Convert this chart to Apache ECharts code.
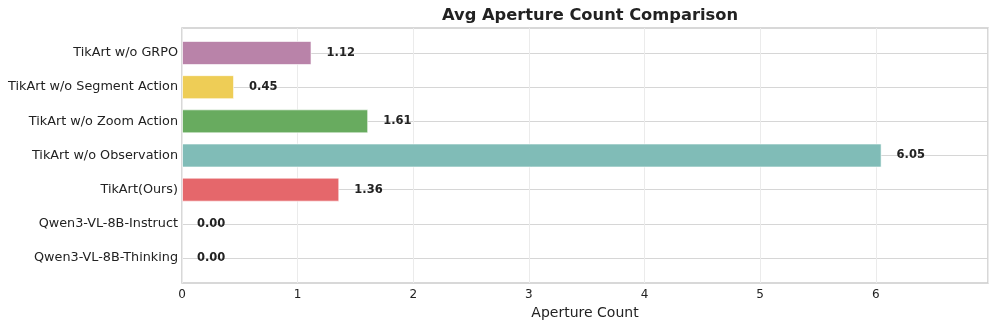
<!DOCTYPE html>
<html><head><meta charset="utf-8">
<script src="https://cdn.jsdelivr.net/npm/echarts@6/dist/echarts.min.js"></script>
<style>html,body{margin:0;padding:0;background:#fff}#c{width:997px;height:325px}</style>
</head><body><div id="c"></div>
<script>
const categories = ["TikArt w/o GRPO","TikArt w/o Segment Action","TikArt w/o Zoom Action","TikArt w/o Observation","TikArt(Ours)","Qwen3-VL-8B-Instruct","Qwen3-VL-8B-Thinking"];
const values = [1.12, 0.45, 1.61, 6.05, 1.36, 0.00, 0.00];
const barColors = ["#b983a9","#eecd56","#68ab5f","#80bcb7","#e5676b","#999999","#999999"];
const xTicks = [0,1,2,3,4,5,6];
const xMax = 6.97;

const chart = echarts.init(document.getElementById('c'));
const font = "'DejaVu Sans', sans-serif";
chart.setOption({
  animation: false,
  title: {text: 'Avg Aperture Count Comparison', left: 585, textAlign: 'center', top: 3,
    textStyle: {fontFamily: font, fontSize: 16.3, fontWeight: 'bold', color: '#222'}},
  grid: [
    {left: 182, width: 806, top: 28, height: 255, show: true, borderColor: '#cccccc', borderWidth: 1.5, backgroundColor: 'transparent'},
    {left: 182, width: 806, top: 53, height: 205}
  ],
  xAxis: [
    {gridIndex: 0, type: 'value', min: 0, max: xMax, interval: 1,
     axisLine: {show: false}, axisTick: {show: false},
     axisLabel: {fontFamily: font, fontSize: 12, color: '#222', margin: 6,
       formatter: v => xTicks.includes(v) ? String(v) : ''},
     splitLine: {show: true, lineStyle: {color: '#ebebeb', width: 1}},
     name: 'Aperture Count', nameLocation: 'middle', nameGap: 20,
     nameTextStyle: {fontFamily: font, fontSize: 14, color: '#222'}},
    {gridIndex: 1, type: 'value', min: 0, max: xMax, show: false}
  ],
  yAxis: [
    {gridIndex: 0, type: 'value', min: 0, max: 1, show: false},
    {gridIndex: 1, type: 'category', data: categories, inverse: true, boundaryGap: false,
     axisLine: {show: false}, axisTick: {show: false},
     axisLabel: {fontFamily: font, fontSize: 12.8, color: '#222', margin: 4},
     splitLine: {show: true, lineStyle: {color: '#d6d6d6', width: 1.2}}}
  ],
  series: [{
    type: 'bar', xAxisIndex: 1, yAxisIndex: 1, barWidth: 24,
    data: values.map((v, i) => ({value: v, itemStyle: {color: barColors[i], borderColor: v > 0 ? 'rgba(255,255,255,0.6)' : 'transparent', borderWidth: v > 0 ? 1 : 0}})),
    label: {show: true, position: 'right', distance: 15, formatter: p => p.value.toFixed(2),
      fontFamily: font, fontSize: 11.5, fontWeight: 'bold', color: '#222'}
  }]
});
</script></body></html>
